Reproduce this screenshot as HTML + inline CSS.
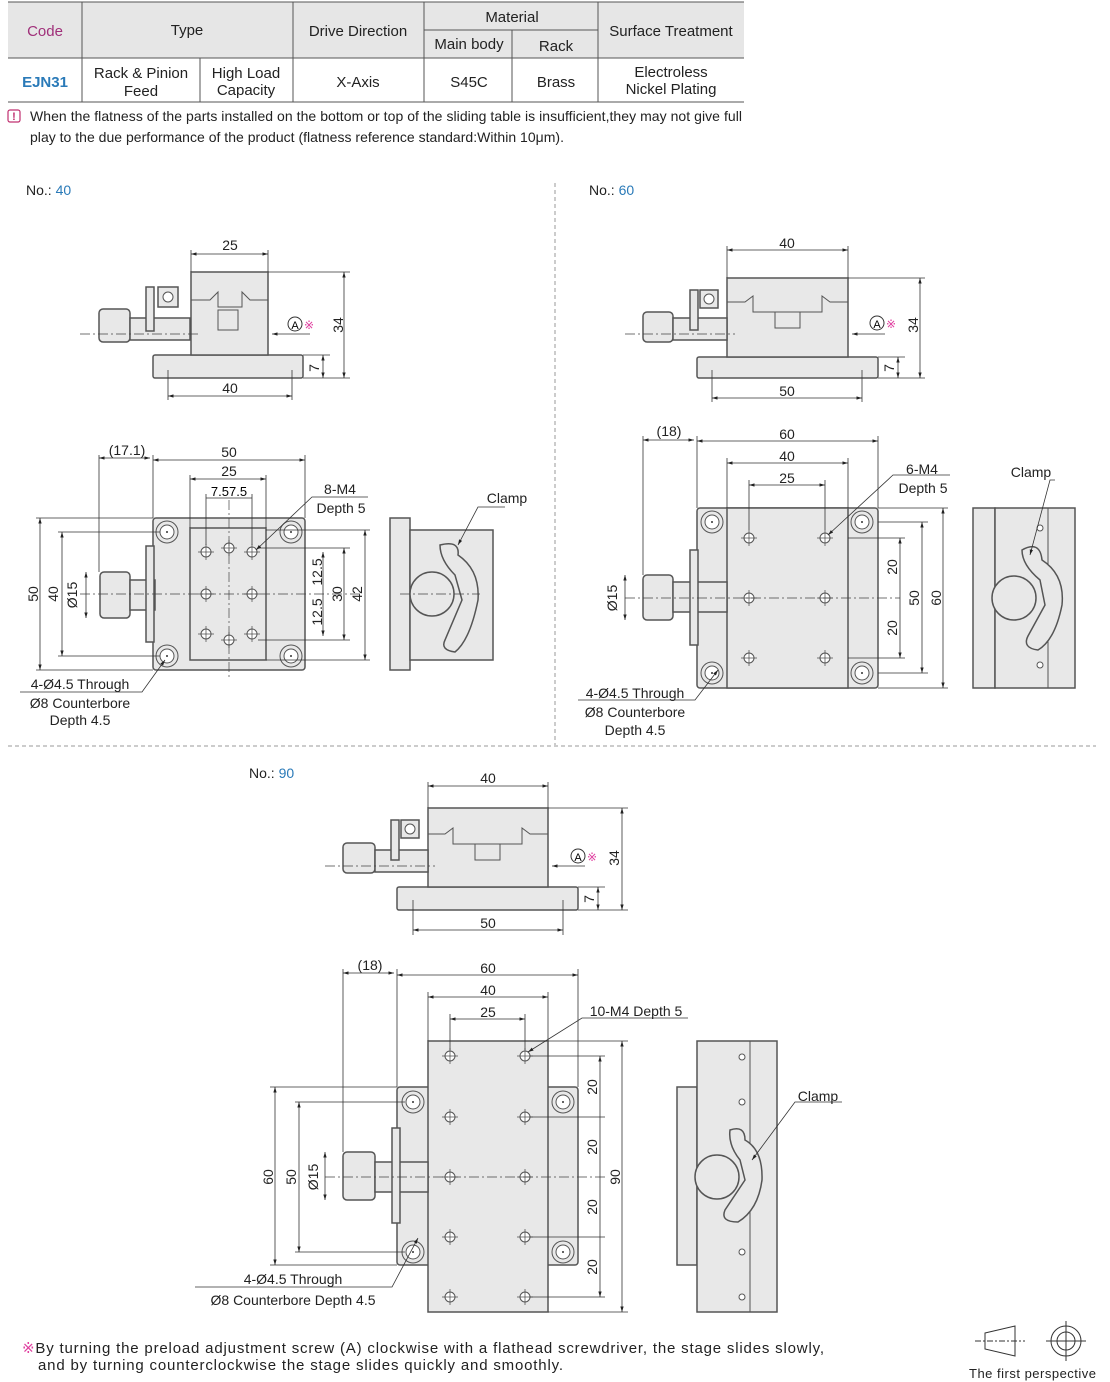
<!DOCTYPE html>
<html><head><meta charset="utf-8"><style>
body{margin:0;background:#fff;}
svg{display:block;font-family:"Liberation Sans",Arial,sans-serif;}
.b{fill:#e8e8e8;stroke:#555;stroke-width:1.5}
.d{fill:none;stroke:#333;stroke-width:0.8}
.c{fill:none;stroke:#444;stroke-width:0.7;stroke-dasharray:10 3 2 3}
.t{font-size:14px;fill:#222}
.s{font-size:14px;fill:#222}
.h{fill:#fff;stroke:#555;stroke-width:1}
</style></head><body>
<svg width="1110" height="1382" viewBox="0 0 1110 1382" xmlns="http://www.w3.org/2000/svg">
<defs>
<marker id="a" viewBox="0 0 10 10" refX="10" refY="5" markerWidth="7" markerHeight="7" orient="auto-start-reverse"><path d="M0,2 L10,5 L0,8z" fill="#222"/></marker>
<g id="hole"><circle r="5" class="h"/><line x1="-8" y1="0" x2="8" y2="0" stroke="#444" stroke-width="0.7"/><line x1="0" y1="-8" x2="0" y2="8" stroke="#444" stroke-width="0.7"/></g>
<g id="cb"><circle r="11" fill="none" stroke="#555"/><circle r="7" class="h"/><circle r="1" fill="#333"/></g>
</defs>

<rect x="8" y="2" width="736" height="56" fill="#e6e6e6"/>
<g stroke="#555" stroke-width="1" fill="none">
<line x1="8" y1="2" x2="744" y2="2"/><line x1="8" y1="58" x2="744" y2="58"/><line x1="8" y1="102" x2="744" y2="102"/>
<line x1="424" y1="30" x2="598" y2="30"/>
<line x1="82" y1="2" x2="82" y2="102"/><line x1="200" y1="58" x2="200" y2="102"/>
<line x1="293" y1="2" x2="293" y2="102"/><line x1="424" y1="2" x2="424" y2="102"/>
<line x1="512" y1="30" x2="512" y2="102"/><line x1="598" y1="2" x2="598" y2="102"/>
</g>
<g font-size="15" fill="#222" text-anchor="middle">
<text x="45" y="36" fill="#a0307a">Code</text>
<text x="187" y="35">Type</text>
<text x="358" y="36">Drive Direction</text>
<text x="512" y="22">Material</text>
<text x="469" y="49">Main body</text>
<text x="556" y="51">Rack</text>
<text x="671" y="36">Surface Treatment</text>
<text x="45" y="87" fill="#2a7ab8" font-weight="bold">EJN31</text>
<text x="141" y="78">Rack &amp; Pinion</text><text x="141" y="96">Feed</text>
<text x="246" y="78">High Load</text><text x="246" y="95">Capacity</text>
<text x="358" y="87">X-Axis</text>
<text x="469" y="87">S45C</text>
<text x="556" y="87">Brass</text>
<text x="671" y="77">Electroless</text><text x="671" y="94">Nickel Plating</text>
</g>
<rect x="8" y="110" width="12" height="12" rx="2" fill="none" stroke="#c03070" stroke-width="1.2"/>
<text x="14" y="120" font-size="11" fill="#c03070" text-anchor="middle" font-weight="bold">!</text>
<text x="30" y="121" font-size="14" fill="#222" textLength="712">When the flatness of the parts installed on the bottom or top of the sliding table is insufficient,they may not give full</text>
<text x="30" y="142" font-size="14" fill="#222" textLength="534">play to the due performance of the product (flatness reference standard:Within 10μm).</text>

<line x1="555" y1="183" x2="555" y2="745" stroke="#999" stroke-dasharray="4 3"/>
<line x1="8" y1="746" x2="1096" y2="746" stroke="#999" stroke-dasharray="4 3"/>

<text x="26" y="195" class="t">No.: <tspan fill="#2a7ab8">40</tspan></text>
<text x="589" y="195" class="t">No.: <tspan fill="#2a7ab8">60</tspan></text>
<text x="249" y="778" class="t">No.: <tspan fill="#2a7ab8">90</tspan></text>

<g>
<rect x="153" y="355" width="150" height="23" class="b" rx="2"/>
<rect x="191" y="272" width="77" height="83" class="b"/>
<path d="M191,300 H210 L218,292 V307 H242 V292 L250,300 H268" fill="none" stroke="#555"/>
<rect x="218" y="310" width="20" height="20" fill="none" stroke="#555"/>
<rect x="99" y="309" width="31" height="33" class="b" rx="4"/>
<rect x="130" y="318" width="60" height="22" class="b"/>
<rect x="146" y="287" width="8" height="44" class="b"/>
<rect x="158" y="287" width="20" height="20" class="b"/><circle cx="168" cy="297" r="5" class="h"/>
<line x1="80" y1="334" x2="200" y2="334" class="c"/>
<line x1="191" y1="272" x2="191" y2="250" class="d"/><line x1="268" y1="272" x2="268" y2="250" class="d"/>
<line x1="191" y1="254" x2="268" y2="254" class="d" marker-start="url(#a)" marker-end="url(#a)"/>
<text x="230" y="250" class="s" text-anchor="middle">25</text>
<line x1="268" y1="272" x2="350" y2="272" class="d"/><line x1="303" y1="378" x2="350" y2="378" class="d"/><line x1="303" y1="355" x2="330" y2="355" class="d"/>
<line x1="344" y1="272" x2="344" y2="378" class="d" marker-start="url(#a)" marker-end="url(#a)"/>
<text x="343" y="325" class="s" text-anchor="middle" transform="rotate(-90 343 325)">34</text>
<line x1="323" y1="355" x2="323" y2="378" class="d" marker-start="url(#a)" marker-end="url(#a)"/>
<text x="319" y="368" class="s" text-anchor="middle" transform="rotate(-90 319 368)">7</text>
<line x1="168" y1="370" x2="168" y2="400" class="d"/><line x1="292" y1="370" x2="292" y2="400" class="d"/>
<line x1="168" y1="396" x2="292" y2="396" class="d" marker-start="url(#a)" marker-end="url(#a)"/>
<text x="230" y="393" class="s" text-anchor="middle">40</text>
<line x1="310" y1="334" x2="272" y2="334" class="d" marker-end="url(#a)"/>
<circle cx="295" cy="324" r="7" fill="none" stroke="#333"/><text x="295" y="329" font-size="11" text-anchor="middle">A</text>
<text x="304" y="329" font-size="12" fill="#e040a0">※</text>
</g>

<g>
<rect x="153" y="518" width="152" height="152" class="b" rx="3"/>
<rect x="190" y="528" width="76" height="132" class="b"/>
<rect x="100" y="572" width="30" height="46" class="b" rx="4"/>
<rect x="130" y="580" width="25" height="30" class="b"/>
<rect x="146" y="546" width="8" height="96" class="b"/>
<use href="#cb" x="167" y="532"/><use href="#cb" x="291" y="532"/><use href="#cb" x="167" y="656"/><use href="#cb" x="291" y="656"/>
<use href="#hole" x="206" y="552"/><use href="#hole" x="229" y="548"/><use href="#hole" x="252" y="552"/>
<use href="#hole" x="206" y="594"/><use href="#hole" x="252" y="594"/>
<use href="#hole" x="206" y="634"/><use href="#hole" x="229" y="640"/><use href="#hole" x="252" y="634"/>
<line x1="80" y1="594" x2="360" y2="594" class="c"/><line x1="229" y1="500" x2="229" y2="680" class="c"/>
<line x1="153" y1="460" x2="305" y2="460" class="d" marker-start="url(#a)" marker-end="url(#a)"/>
<text x="229" y="457" class="s" text-anchor="middle">50</text>
<line x1="190" y1="479" x2="266" y2="479" class="d" marker-start="url(#a)" marker-end="url(#a)"/>
<text x="229" y="476" class="s" text-anchor="middle">25</text>
<line x1="206" y1="498" x2="252" y2="498" class="d"/>
<text x="229" y="496" font-size="13" text-anchor="middle">7.57.5</text>
<line x1="99" y1="458" x2="150" y2="458" class="d" marker-start="url(#a)" marker-end="url(#a)"/>
<text x="127" y="455" class="s" text-anchor="middle">(17.1)</text>
<g class="d"><line x1="153" y1="455" x2="153" y2="518"/><line x1="305" y1="455" x2="305" y2="518"/><line x1="190" y1="475" x2="190" y2="528"/><line x1="266" y1="475" x2="266" y2="528"/><line x1="99" y1="455" x2="99" y2="572"/><line x1="206" y1="494" x2="206" y2="545"/><line x1="252" y1="494" x2="252" y2="545"/></g>
<line x1="40" y1="518" x2="40" y2="670" class="d" marker-start="url(#a)" marker-end="url(#a)"/>
<text x="38" y="594" class="s" text-anchor="middle" transform="rotate(-90 38 594)">50</text>
<line x1="62" y1="532" x2="62" y2="656" class="d" marker-start="url(#a)" marker-end="url(#a)"/>
<text x="58" y="594" class="s" text-anchor="middle" transform="rotate(-90 58 594)">40</text>
<line x1="86" y1="572" x2="86" y2="618" class="d" marker-start="url(#a)" marker-end="url(#a)"/>
<text x="77" y="595" class="s" text-anchor="middle" transform="rotate(-90 77 595)">Ø15</text>
<g class="d"><line x1="36" y1="518" x2="153" y2="518"/><line x1="36" y1="670" x2="153" y2="670"/><line x1="58" y1="532" x2="160" y2="532"/><line x1="58" y1="656" x2="160" y2="656"/></g>
<line x1="323" y1="552" x2="323" y2="636" class="d" marker-start="url(#a)" marker-end="url(#a)"/>
<line x1="344" y1="548" x2="344" y2="640" class="d" marker-start="url(#a)" marker-end="url(#a)"/>
<line x1="365" y1="530" x2="365" y2="660" class="d" marker-start="url(#a)" marker-end="url(#a)"/>
<g class="d"><line x1="266" y1="530" x2="370" y2="530"/><line x1="266" y1="660" x2="370" y2="660"/><line x1="258" y1="548" x2="350" y2="548"/><line x1="258" y1="640" x2="350" y2="640"/></g>
<text x="322" y="572" class="s" text-anchor="middle" transform="rotate(-90 322 572)">12.5</text>
<text x="322" y="612" class="s" text-anchor="middle" transform="rotate(-90 322 612)">12.5</text>
<text x="342" y="594" class="s" text-anchor="middle" transform="rotate(-90 342 594)">30</text>
<text x="362" y="594" class="s" text-anchor="middle" transform="rotate(-90 362 594)">42</text>
<polyline points="368,497 312,497 256,550" class="d" marker-end="url(#a)"/>
<text x="340" y="494" class="s" text-anchor="middle">8-M4</text><text x="341" y="513" class="s" text-anchor="middle">Depth 5</text>
<polyline points="20,692 142,692 165,660" class="d" marker-end="url(#a)"/>
<text x="80" y="689" class="s" text-anchor="middle">4-Ø4.5 Through</text>
<text x="80" y="708" class="s" text-anchor="middle">Ø8 Counterbore</text>
<text x="80" y="725" class="s" text-anchor="middle">Depth 4.5</text>
<rect x="390" y="518" width="20" height="152" class="b"/>
<rect x="410" y="530" width="83" height="130" class="b"/>
<circle cx="432" cy="594" r="22" class="b"/>
<path d="M440,545 Q460,540 458,555 Q480,570 478,600 Q470,640 455,652 Q440,650 445,640 L462,600 L455,575 Q440,560 440,545z" class="b"/>
<line x1="400" y1="594" x2="480" y2="594" class="c"/>
<polyline points="505,507 478,507 458,545" class="d" marker-end="url(#a)"/>
<text x="507" y="503" class="s" text-anchor="middle">Clamp</text>
</g>

<g>
<rect x="697" y="357" width="181" height="21" class="b" rx="2"/>
<rect x="727" y="278" width="121" height="79" class="b"/>
<path d="M727,302 H745 L753,296 V312 H822 V296 L830,302 H848" fill="none" stroke="#555"/>
<rect x="775" y="312" width="25" height="16" fill="none" stroke="#555"/>
<rect x="643" y="312" width="30" height="30" class="b" rx="4"/>
<rect x="673" y="318" width="54" height="22" class="b"/>
<rect x="690" y="290" width="8" height="40" class="b"/>
<rect x="700" y="290" width="18" height="18" class="b"/><circle cx="709" cy="299" r="5" class="h"/>
<line x1="625" y1="334" x2="735" y2="334" class="c"/>
<line x1="727" y1="250" x2="848" y2="250" class="d" marker-start="url(#a)" marker-end="url(#a)"/>
<text x="787" y="248" class="s" text-anchor="middle">40</text>
<g class="d"><line x1="727" y1="246" x2="727" y2="278"/><line x1="848" y1="246" x2="848" y2="278"/><line x1="848" y1="278" x2="925" y2="278"/><line x1="878" y1="378" x2="925" y2="378"/><line x1="878" y1="357" x2="905" y2="357"/><line x1="712" y1="370" x2="712" y2="402"/><line x1="862" y1="370" x2="862" y2="402"/></g>
<line x1="920" y1="278" x2="920" y2="378" class="d" marker-start="url(#a)" marker-end="url(#a)"/>
<text x="918" y="325" class="s" text-anchor="middle" transform="rotate(-90 918 325)">34</text>
<line x1="898" y1="357" x2="898" y2="378" class="d" marker-start="url(#a)" marker-end="url(#a)"/>
<text x="894" y="368" class="s" text-anchor="middle" transform="rotate(-90 894 368)">7</text>
<line x1="712" y1="398" x2="862" y2="398" class="d" marker-start="url(#a)" marker-end="url(#a)"/>
<text x="787" y="396" class="s" text-anchor="middle">50</text>
<line x1="885" y1="334" x2="852" y2="334" class="d" marker-end="url(#a)"/>
<circle cx="877" cy="323" r="7" fill="none" stroke="#333"/><text x="877" y="328" font-size="11" text-anchor="middle">A</text>
<text x="886" y="328" font-size="12" fill="#e040a0">※</text>
</g>

<g>
<rect x="697" y="508" width="181" height="180" class="b" rx="3"/>
<rect x="727" y="508" width="121" height="180" class="b"/>
<rect x="643" y="575" width="30" height="45" class="b" rx="4"/>
<rect x="673" y="582" width="54" height="30" class="b"/>
<rect x="690" y="550" width="8" height="95" class="b"/>
<use href="#cb" x="712" y="522"/><use href="#cb" x="862" y="522"/><use href="#cb" x="712" y="673"/><use href="#cb" x="862" y="673"/>
<use href="#hole" x="749" y="538"/><use href="#hole" x="825" y="538"/><use href="#hole" x="749" y="598"/><use href="#hole" x="825" y="598"/><use href="#hole" x="749" y="658"/><use href="#hole" x="825" y="658"/>
<line x1="625" y1="598" x2="900" y2="598" class="c"/>
<line x1="697" y1="441" x2="878" y2="441" class="d" marker-start="url(#a)" marker-end="url(#a)"/>
<text x="787" y="439" class="s" text-anchor="middle">60</text>
<line x1="727" y1="463" x2="848" y2="463" class="d" marker-start="url(#a)" marker-end="url(#a)"/>
<text x="787" y="461" class="s" text-anchor="middle">40</text>
<line x1="749" y1="485" x2="825" y2="485" class="d" marker-start="url(#a)" marker-end="url(#a)"/>
<text x="787" y="483" class="s" text-anchor="middle">25</text>
<line x1="643" y1="440" x2="694" y2="440" class="d" marker-start="url(#a)" marker-end="url(#a)"/>
<text x="669" y="436" class="s" text-anchor="middle">(18)</text>
<g class="d"><line x1="643" y1="436" x2="643" y2="575"/><line x1="697" y1="436" x2="697" y2="508"/><line x1="878" y1="436" x2="878" y2="508"/><line x1="727" y1="458" x2="727" y2="508"/><line x1="848" y1="458" x2="848" y2="508"/><line x1="749" y1="480" x2="749" y2="530"/><line x1="825" y1="480" x2="825" y2="530"/>
<line x1="848" y1="538" x2="905" y2="538"/><line x1="848" y1="658" x2="905" y2="658"/><line x1="878" y1="522" x2="928" y2="522"/><line x1="878" y1="673" x2="928" y2="673"/><line x1="878" y1="508" x2="948" y2="508"/><line x1="878" y1="688" x2="948" y2="688"/></g>
<line x1="900" y1="538" x2="900" y2="658" class="d" marker-start="url(#a)" marker-end="url(#a)"/>
<text x="897" y="567" class="s" text-anchor="middle" transform="rotate(-90 897 567)">20</text>
<text x="897" y="628" class="s" text-anchor="middle" transform="rotate(-90 897 628)">20</text>
<line x1="922" y1="522" x2="922" y2="673" class="d" marker-start="url(#a)" marker-end="url(#a)"/>
<text x="919" y="598" class="s" text-anchor="middle" transform="rotate(-90 919 598)">50</text>
<line x1="943" y1="508" x2="943" y2="688" class="d" marker-start="url(#a)" marker-end="url(#a)"/>
<text x="941" y="598" class="s" text-anchor="middle" transform="rotate(-90 941 598)">60</text>
<line x1="625" y1="575" x2="625" y2="620" class="d" marker-start="url(#a)" marker-end="url(#a)"/>
<text x="617" y="598" class="s" text-anchor="middle" transform="rotate(-90 617 598)">Ø15</text>
<polyline points="950,475 893,475 828,535" class="d" marker-end="url(#a)"/>
<text x="922" y="474" class="s" text-anchor="middle">6-M4</text><text x="923" y="493" class="s" text-anchor="middle">Depth 5</text>
<polyline points="578,700 695,700 718,670" class="d" marker-end="url(#a)"/>
<text x="635" y="698" class="s" text-anchor="middle">4-Ø4.5 Through</text>
<text x="635" y="717" class="s" text-anchor="middle">Ø8 Counterbore</text>
<text x="635" y="735" class="s" text-anchor="middle">Depth 4.5</text>
<rect x="973" y="508" width="22" height="180" class="b"/>
<rect x="995" y="508" width="80" height="180" class="b"/>
<line x1="1048" y1="508" x2="1048" y2="688" stroke="#555"/>
<circle cx="1014" cy="598" r="22" class="b"/>
<path d="M1022,550 Q1040,540 1042,560 Q1065,575 1062,605 Q1055,640 1038,650 Q1022,648 1028,636 L1045,605 L1040,580 Q1022,565 1022,550z" class="b"/>
<circle cx="1040" cy="528" r="3" class="h"/><circle cx="1040" cy="665" r="3" class="h"/>
<polyline points="1055,480 1050,480 1030,555" class="d" marker-end="url(#a)"/>
<text x="1031" y="477" class="s" text-anchor="middle">Clamp</text>
</g>

<g>
<rect x="397" y="887" width="181" height="23" class="b" rx="2"/>
<rect x="428" y="808" width="120" height="79" class="b"/>
<path d="M428,834 H445 L453,828 V844 H522 V828 L530,834 H548" fill="none" stroke="#555"/>
<rect x="475" y="844" width="25" height="16" fill="none" stroke="#555"/>
<rect x="343" y="843" width="32" height="30" class="b" rx="4"/>
<rect x="375" y="850" width="53" height="22" class="b"/>
<rect x="391" y="820" width="8" height="40" class="b"/>
<rect x="401" y="820" width="18" height="18" class="b"/><circle cx="410" cy="829" r="5" class="h"/>
<line x1="325" y1="866" x2="435" y2="866" class="c"/>
<line x1="428" y1="786" x2="548" y2="786" class="d" marker-start="url(#a)" marker-end="url(#a)"/>
<text x="488" y="783" class="s" text-anchor="middle">40</text>
<g class="d"><line x1="428" y1="782" x2="428" y2="808"/><line x1="548" y1="782" x2="548" y2="808"/><line x1="548" y1="808" x2="628" y2="808"/><line x1="578" y1="910" x2="628" y2="910"/><line x1="578" y1="887" x2="605" y2="887"/><line x1="413" y1="900" x2="413" y2="935"/><line x1="563" y1="900" x2="563" y2="935"/></g>
<line x1="622" y1="808" x2="622" y2="910" class="d" marker-start="url(#a)" marker-end="url(#a)"/>
<text x="619" y="858" class="s" text-anchor="middle" transform="rotate(-90 619 858)">34</text>
<line x1="598" y1="887" x2="598" y2="910" class="d" marker-start="url(#a)" marker-end="url(#a)"/>
<text x="594" y="899" class="s" text-anchor="middle" transform="rotate(-90 594 899)">7</text>
<line x1="413" y1="930" x2="563" y2="930" class="d" marker-start="url(#a)" marker-end="url(#a)"/>
<text x="488" y="928" class="s" text-anchor="middle">50</text>
<line x1="585" y1="866" x2="552" y2="866" class="d" marker-end="url(#a)"/>
<circle cx="578" cy="856" r="7" fill="none" stroke="#333"/><text x="578" y="861" font-size="11" text-anchor="middle">A</text>
<text x="587" y="861" font-size="12" fill="#e040a0">※</text>
</g>

<g>
<rect x="397" y="1087" width="181" height="178" class="b" rx="3"/>
<rect x="428" y="1041" width="120" height="271" class="b"/>
<rect x="343" y="1152" width="32" height="48" class="b" rx="4"/>
<rect x="375" y="1162" width="53" height="30" class="b"/>
<rect x="392" y="1128" width="8" height="95" class="b"/>
<use href="#cb" x="413" y="1102"/><use href="#cb" x="563" y="1102"/><use href="#cb" x="413" y="1252"/><use href="#cb" x="563" y="1252"/>
<use href="#hole" x="450" y="1056"/><use href="#hole" x="525" y="1056"/>
<use href="#hole" x="450" y="1117"/><use href="#hole" x="525" y="1117"/>
<use href="#hole" x="450" y="1177"/><use href="#hole" x="525" y="1177"/>
<use href="#hole" x="450" y="1237"/><use href="#hole" x="525" y="1237"/>
<use href="#hole" x="450" y="1297"/><use href="#hole" x="525" y="1297"/>
<line x1="325" y1="1177" x2="605" y2="1177" class="c"/>
<line x1="397" y1="975" x2="578" y2="975" class="d" marker-start="url(#a)" marker-end="url(#a)"/>
<text x="488" y="973" class="s" text-anchor="middle">60</text>
<line x1="428" y1="997" x2="548" y2="997" class="d" marker-start="url(#a)" marker-end="url(#a)"/>
<text x="488" y="995" class="s" text-anchor="middle">40</text>
<line x1="450" y1="1019" x2="525" y2="1019" class="d" marker-start="url(#a)" marker-end="url(#a)"/>
<text x="488" y="1017" class="s" text-anchor="middle">25</text>
<line x1="343" y1="973" x2="394" y2="973" class="d" marker-start="url(#a)" marker-end="url(#a)"/>
<text x="370" y="970" class="s" text-anchor="middle">(18)</text>
<g class="d"><line x1="343" y1="969" x2="343" y2="1152"/><line x1="397" y1="969" x2="397" y2="1087"/><line x1="578" y1="969" x2="578" y2="1087"/><line x1="428" y1="992" x2="428" y2="1041"/><line x1="548" y1="992" x2="548" y2="1041"/><line x1="450" y1="1014" x2="450" y2="1050"/><line x1="525" y1="1014" x2="525" y2="1050"/>
<line x1="530" y1="1056" x2="605" y2="1056"/><line x1="530" y1="1117" x2="605" y2="1117"/><line x1="530" y1="1237" x2="605" y2="1237"/><line x1="530" y1="1297" x2="605" y2="1297"/><line x1="548" y1="1041" x2="628" y2="1041"/><line x1="548" y1="1312" x2="628" y2="1312"/>
<line x1="270" y1="1087" x2="397" y2="1087"/><line x1="270" y1="1265" x2="397" y2="1265"/><line x1="295" y1="1102" x2="405" y2="1102"/><line x1="295" y1="1252" x2="405" y2="1252"/></g>
<line x1="600" y1="1056" x2="600" y2="1297" class="d" marker-start="url(#a)" marker-end="url(#a)"/>
<text x="597" y="1087" class="s" text-anchor="middle" transform="rotate(-90 597 1087)">20</text>
<text x="597" y="1147" class="s" text-anchor="middle" transform="rotate(-90 597 1147)">20</text>
<text x="597" y="1207" class="s" text-anchor="middle" transform="rotate(-90 597 1207)">20</text>
<text x="597" y="1267" class="s" text-anchor="middle" transform="rotate(-90 597 1267)">20</text>
<line x1="622" y1="1041" x2="622" y2="1312" class="d" marker-start="url(#a)" marker-end="url(#a)"/>
<text x="620" y="1177" class="s" text-anchor="middle" transform="rotate(-90 620 1177)">90</text>
<line x1="275" y1="1087" x2="275" y2="1265" class="d" marker-start="url(#a)" marker-end="url(#a)"/>
<text x="273" y="1177" class="s" text-anchor="middle" transform="rotate(-90 273 1177)">60</text>
<line x1="299" y1="1102" x2="299" y2="1252" class="d" marker-start="url(#a)" marker-end="url(#a)"/>
<text x="296" y="1177" class="s" text-anchor="middle" transform="rotate(-90 296 1177)">50</text>
<line x1="325" y1="1152" x2="325" y2="1200" class="d" marker-start="url(#a)" marker-end="url(#a)"/>
<text x="318" y="1177" class="s" text-anchor="middle" transform="rotate(-90 318 1177)">Ø15</text>
<polyline points="688,1018 582,1018 528,1052" class="d" marker-end="url(#a)"/>
<text x="636" y="1016" class="s" text-anchor="middle">10-M4 Depth 5</text>
<polyline points="195,1287 392,1287 418,1238" class="d" marker-end="url(#a)"/>
<text x="293" y="1284" class="s" text-anchor="middle">4-Ø4.5 Through</text>
<text x="293" y="1305" class="s" text-anchor="middle">Ø8 Counterbore Depth 4.5</text>
<rect x="677" y="1087" width="20" height="178" class="b"/>
<rect x="697" y="1041" width="80" height="271" class="b"/>
<line x1="750" y1="1041" x2="750" y2="1312" stroke="#555"/>
<circle cx="717" cy="1177" r="22" class="b"/>
<path d="M730,1130 Q745,1125 745,1140 Q763,1150 762,1180 Q758,1210 738,1222 Q720,1222 725,1210 L745,1180 L740,1160 Q728,1145 730,1130z" class="b"/>
<circle cx="742" cy="1057" r="3" class="h"/><circle cx="742" cy="1102" r="3" class="h"/><circle cx="742" cy="1252" r="3" class="h"/><circle cx="742" cy="1297" r="3" class="h"/>
<polyline points="842,1102 795,1102 752,1160" class="d" marker-end="url(#a)"/>
<text x="818" y="1101" class="s" text-anchor="middle">Clamp</text>
</g>

<text x="22" y="1353" font-size="15" fill="#222" textLength="802"><tspan fill="#e040a0">※</tspan>By turning the preload adjustment screw (A) clockwise with a flathead screwdriver, the stage slides slowly,</text>
<text x="38" y="1370" font-size="15" fill="#222" textLength="525">and by turning counterclockwise the stage slides quickly and smoothly.</text>
<g fill="none" stroke="#333">
<path d="M985,1333 L1015,1326 L1015,1356 L985,1349z"/>
<line x1="975" y1="1341" x2="1025" y2="1341" stroke-dasharray="6 2 2 2"/>
<circle cx="1066" cy="1341" r="15"/><circle cx="1066" cy="1341" r="9"/>
<line x1="1046" y1="1341" x2="1086" y2="1341"/><line x1="1066" y1="1321" x2="1066" y2="1361"/>
</g>
<text x="969" y="1378" font-size="13" fill="#222" textLength="127">The first perspective</text>
</svg>
</body></html>
